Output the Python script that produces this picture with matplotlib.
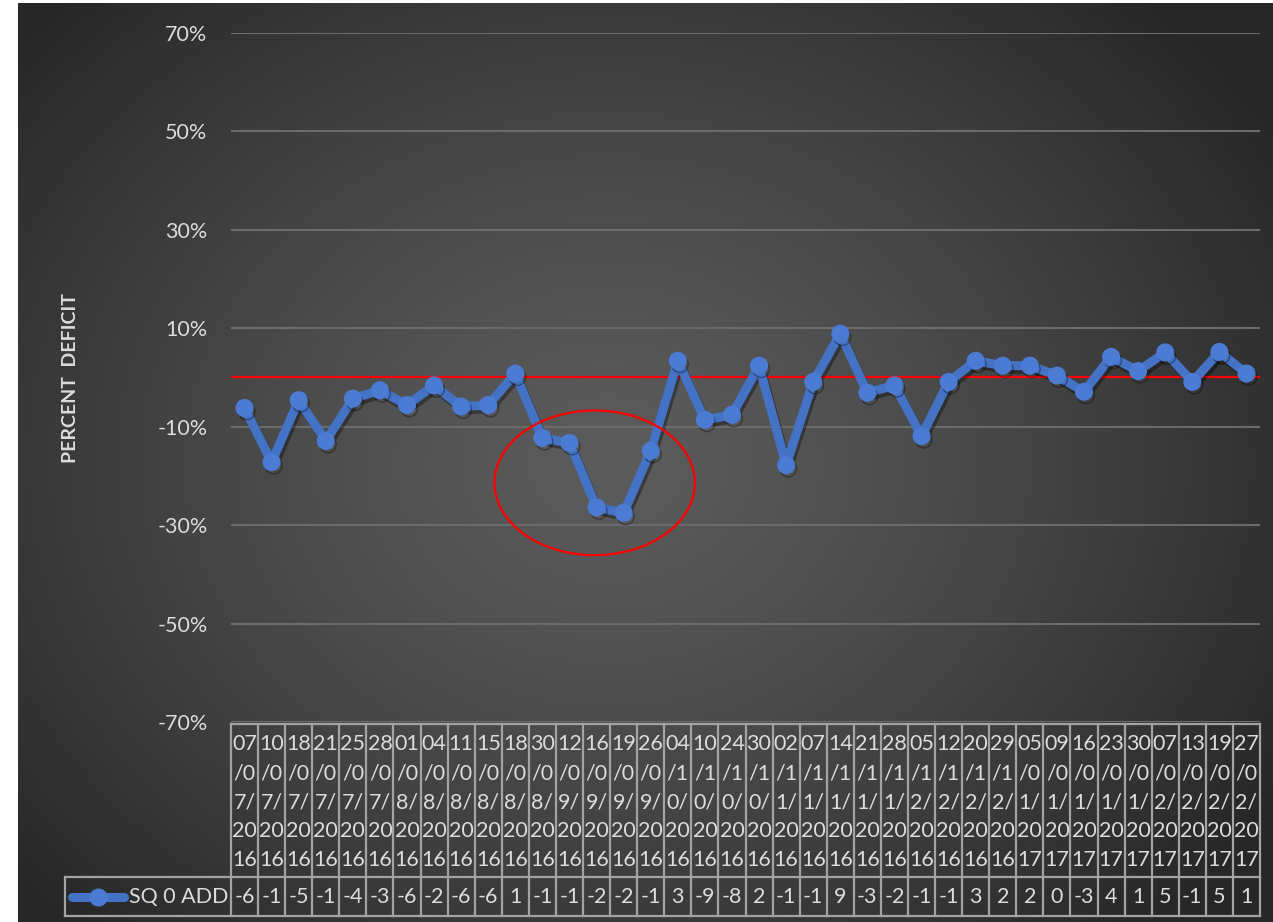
import numpy as np
import matplotlib
matplotlib.use("Agg")
import matplotlib.pyplot as plt
from matplotlib.patches import Ellipse
from matplotlib.lines import Line2D
import matplotlib.patheffects as pe

# ---- data -------------------------------------------------------------
dates = [
    "07/07/2016", "10/07/2016", "18/07/2016", "21/07/2016", "25/07/2016",
    "28/07/2016", "01/08/2016", "04/08/2016", "11/08/2016", "15/08/2016",
    "18/08/2016", "30/08/2016", "12/09/2016", "16/09/2016", "19/09/2016",
    "26/09/2016", "04/10/2016", "10/10/2016", "24/10/2016", "30/10/2016",
    "02/11/2016", "07/11/2016", "14/11/2016", "21/11/2016", "28/11/2016",
    "05/12/2016", "12/12/2016", "20/12/2016", "29/12/2016", "05/01/2017",
    "09/01/2017", "16/01/2017", "23/01/2017", "30/01/2017", "07/02/2017",
    "13/02/2017", "19/02/2017", "27/02/2017",
]
deficit_pct = [
    -6.2, -17.2, -4.6, -12.9, -4.3, -2.6, -5.6, -1.6, -5.9, -5.6,
    0.8, -12.3, -13.3, -26.4, -27.5, -14.9, 3.4, -8.6, -7.6, 2.4,
    -17.8, -0.9, 8.9, -3.1, -1.6, -11.9, -0.9, 3.4, 2.4, 2.4,
    0.4, -2.9, 4.2, 1.3, 5.1, -0.9, 5.2, 0.8,
]
series_name = "SQ 0 ADD"
y_ticks = [-70, -50, -30, -10, 10, 30, 50, 70]
y_label = "PERCENT  DEFICIT"

# ---- styling ----------------------------------------------------------
plt.rcParams["font.family"] = ["Lato", "DejaVu Sans"]
TXT = "#dcdcdc"
BORDER = "#a3a3a3"
BLUE = "#4472C4"
MARK = "#4b7bd3"
FS = 15.5
LW = 6.5
MS = 12

W, H = 1273, 922
fig = plt.figure(figsize=(W / 100, H / 100), dpi=100)
fig.patch.set_facecolor("white")

# radial dark-grey backdrop
bg = fig.add_axes([18 / W, 0, 1 - 18 / W, 1 - 3 / H])
bg.set_axis_off()
yy, xx = np.mgrid[0:1:460j, 0:1:640j]
r = np.sqrt(((xx - 0.47) / 0.62) ** 2 + ((yy - 0.50) / 0.70) ** 2)
r = np.clip(r, 0, 1)
c_center, c_edge = 0.36, 0.155
v = c_edge + (c_center - c_edge) * (1 - r ** 1.3)
bg.imshow(np.dstack([v, v, v]), aspect="auto", extent=(0, 1, 0, 1),
          interpolation="bilinear")
bg.set_xlim(0, 1)
bg.set_ylim(0, 1)

n = len(dates)
x = np.arange(n)

# ---- main plot --------------------------------------------------------
ax = fig.add_axes([231 / W, 1 - 722 / H, 1029 / W, (722 - 33) / H])
ax.set_facecolor("none")
ax.set_xlim(-0.5, n - 0.5)
ax.set_ylim(-70, 70)
ax.set_xticks([])
ax.set_yticks(y_ticks)
ax.set_yticklabels([f"{t}%" for t in y_ticks])
ax.tick_params(axis="y", length=0, pad=17, labelsize=FS, labelcolor=TXT)
for s in ax.spines.values():
    s.set_visible(False)
ax.grid(axis="y", color="#6b6b6b", lw=1.5)
ax.set_axisbelow(True)

ax.axhline(0, color="#ff0000", lw=1.6, zorder=2)

ax.plot(x, deficit_pct, color=BLUE, lw=LW, marker="o", ms=MS,
        mfc=MARK, mec=MARK, solid_joinstyle="round", zorder=3,
        path_effects=[pe.SimpleLineShadow(offset=(1.5, -2.5),
                                          shadow_color="black", alpha=0.35),
                      pe.Normal()])

# highlight the September dip
ax.add_patch(Ellipse((12.93, -21.4), width=7.4, height=29.4, fill=False,
                     ec="#ff0000", lw=1.6, zorder=4))

fig.text(70 / W, 1 - 378 / H, y_label, rotation=90, ha="center",
         va="center", fontsize=14, fontweight="bold", color=TXT)

# ---- data table -------------------------------------------------------
tax = fig.add_axes([231 / W, 1 - 916 / H, 1029 / W, (916 - 724) / H])
tax.set_xlim(-0.5, n - 0.5)
tax.set_ylim(0, 1)
tax.set_axis_off()

split = (916 - 877) / (916 - 724)
leg_left = (65 - 231) / 1029

tax.plot([-0.5, n - 0.5], [1, 1], color=BORDER, lw=1.6, clip_on=False)
for yv in (split, 0):
    tax.plot([leg_left, 1], [yv, yv], color=BORDER, lw=1.6,
             transform=tax.transAxes, clip_on=False)
tax.plot([leg_left, leg_left], [0, split], color=BORDER, lw=1.6,
         transform=tax.transAxes, clip_on=False)
for i in range(n + 1):
    tax.plot([i - 0.5, i - 0.5], [0, 1], color=BORDER, lw=1.6,
             clip_on=False)

line_ys = [(916 - yp) / (916 - 724) for yp in (744, 773, 802, 831, 860)]
for i, d in enumerate(dates):
    chunks = [d[k:k + 2] for k in range(0, len(d), 2)]
    for yv, c in zip(line_ys, chunks):
        tax.text(i, yv, c, ha="center", va="center", fontsize=FS, color=TXT)
    tax.text(i, split / 2, str(int(round(deficit_pct[i])))[:2],
             ha="center", va="center", fontsize=FS, color=TXT)

# legend key inside the table
lx0, lx1 = (72 - 231) / 1029, (124 - 231) / 1029
tax.add_line(Line2D([lx0, lx1], [split / 2, split / 2], color=BLUE, lw=LW,
                    transform=tax.transAxes, clip_on=False,
                    solid_capstyle="round"))
tax.add_line(Line2D([(lx0 + lx1) / 2], [split / 2], marker="o", ms=MS,
                    mfc=MARK, mec=MARK, transform=tax.transAxes,
                    clip_on=False))
tax.text((129 - 231) / 1029, split / 2, series_name, ha="left", va="center",
         fontsize=FS, color=TXT, transform=tax.transAxes)

fig.savefig("out.png", dpi=100, facecolor=fig.get_facecolor())
